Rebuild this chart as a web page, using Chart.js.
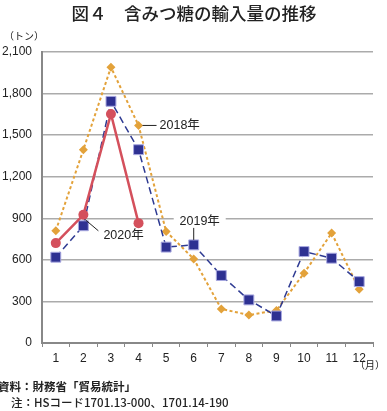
<!DOCTYPE html>
<html><head><meta charset="utf-8">
<script src="https://cdn.jsdelivr.net/npm/chart.js@4/dist/chart.umd.min.js"></script>
<style>html,body{margin:0;padding:0;background:#fff;}#wrap{position:relative;width:387px;height:411px;}</style>
</head><body><div id="wrap"><canvas id="c" width="387" height="411"></canvas></div>
<script>
const months = ['1','2','3','4','5','6','7','8','9','10','11','12'];
const v2018 = [810, 1395, 1990, 1570, 805, 607, 246, 202, 235, 504, 793, 388];
const v2019 = [619, 846, 1744, 1395, 692, 708, 487, 311, 195, 660, 612, 443];
const v2020 = [721, 925, 1653, 865];
const yTicks = [0, 300, 600, 900, 1200, 1500, 1800, 2100];
const seriesNames = ['2018年', '2019年', '2020年'];
const titleText = '図４　含みつ糖の輸入量の推移';
const unitY = '（トン）';
const unitX = '（月）';
const note1 = '資料：財務省「貿易統計」';
const note2 = '注：HSコード1701.13-000、1701.14-190';

const JP = '"Noto Sans CJK JP", sans-serif';
const LAT = '"Liberation Sans", Arial, sans-serif';

const extras = {
  id: 'extras',
  afterDatasetsDraw(chart) {
    const ctx = chart.ctx, xs = chart.scales.x, ys = chart.scales.y;
    ctx.save();
    ctx.strokeStyle = '#222'; ctx.lineWidth = 1;
    ctx.fillStyle = '#222';
    ctx.font = '12.5px ' + LAT + ', ' + JP;
    ctx.textBaseline = 'middle';
    // 2018 label
    let px = xs.getPixelForValue(3), py = ys.getPixelForValue(v2018[3]);
    ctx.beginPath(); ctx.moveTo(px + 4, py); ctx.lineTo(px + 18, py); ctx.stroke();
    ctx.textAlign = 'left';
    ctx.fillText(seriesNames[0], px + 21, py);
    // 2019 label
    px = xs.getPixelForValue(5); py = ys.getPixelForValue(v2019[5]);
    ctx.fillStyle = '#fff';
    ctx.fillRect(px - 20, py - 32, 52, 16);
    ctx.fillStyle = '#222';
    ctx.beginPath(); ctx.moveTo(px, py - 5); ctx.lineTo(px, py - 17); ctx.stroke();
    ctx.textAlign = 'center';
    ctx.fillText(seriesNames[1], px + 6, py - 23);
    // 2020 label
    px = xs.getPixelForValue(1); py = ys.getPixelForValue(v2020[1]);
    ctx.beginPath(); ctx.moveTo(px + 2, py + 5); ctx.lineTo(px + 15, py + 16); ctx.stroke();
    ctx.textAlign = 'left';
    ctx.fillText(seriesNames[2], px + 20, py + 21);
    ctx.restore();
  },
  afterDraw(chart) {
    const ctx = chart.ctx;
    ctx.save();
    ctx.fillStyle = '#222';
    ctx.textBaseline = 'middle';
    ctx.textAlign = 'center';
    ctx.font = '500 17.5px ' + JP;
    ctx.fillText(titleText, 194, 13);
    ctx.font = '10px ' + JP;
    ctx.fillText(unitY, 24, 36);
    ctx.fillText(unitX, 370, 365);
    ctx.textAlign = 'left';
    ctx.font = 'bold 11.5px ' + JP;
    ctx.fillText(note1, -2, 387);
    ctx.font = '500 11.5px ' + JP;
    ctx.fillText(note2, 11, 403);
    ctx.restore();
  }
};

new Chart(document.getElementById('c'), {
  type: 'line',
  data: {
    labels: months,
    datasets: [
      { label: seriesNames[2], data: v2020, order: 0,
        borderColor: '#D4505C', backgroundColor: '#D4505C', borderWidth: 2.5,
        pointStyle: 'circle', pointRadius: 5, pointBorderWidth: 0, tension: 0 },
      { label: seriesNames[1], data: v2019, order: 1,
        borderColor: '#2E3A92', backgroundColor: '#2E3192', borderWidth: 1.5, borderDash: [7, 4],
        pointStyle: 'rect', pointRadius: 7, pointBorderColor: '#A8A8E0', pointBorderWidth: 1, tension: 0 },
      { label: seriesNames[0], data: v2018, order: 2,
        borderColor: '#E3A23A', backgroundColor: '#E3A23A', borderWidth: 2, borderDash: [3, 2.5],
        pointStyle: 'rectRot', pointRadius: 4.5, pointBorderWidth: 0, tension: 0 }
    ]
  },
  options: {
    responsive: false, animation: false, devicePixelRatio: 1,
    layout: { padding: { top: 52, right: 14, left: 0, bottom: 0 } },
    plugins: { legend: { display: false }, tooltip: { enabled: false }, title: { display: false } },
    scales: {
      x: {
        offset: true,
        grid: { display: true, drawOnChartArea: false, drawTicks: true, tickLength: 4, offset: true, color: '#888', lineWidth: 1 },
        border: { display: true, color: '#888', width: 2 },
        ticks: { color: '#222', font: { family: LAT, size: 12 }, padding: 4, maxRotation: 0, autoSkip: false },
        afterFit(s) { s.height = 68; }
      },
      y: {
        min: 0, max: 2100,
        afterBuildTicks(s) { s.ticks = yTicks.map(v => ({ value: v })); },
        grid: { color: '#ABABAB', lineWidth: 1.5, drawTicks: false },
        border: { display: true, color: '#888', width: 2 },
        ticks: { color: '#222', font: { family: LAT, size: 12 }, padding: 10,
                 callback: v => v.toLocaleString('en-US') },
        afterFit(s) { s.width = 42; }
      }
    }
  },
  plugins: [extras]
});
</script></body></html>
